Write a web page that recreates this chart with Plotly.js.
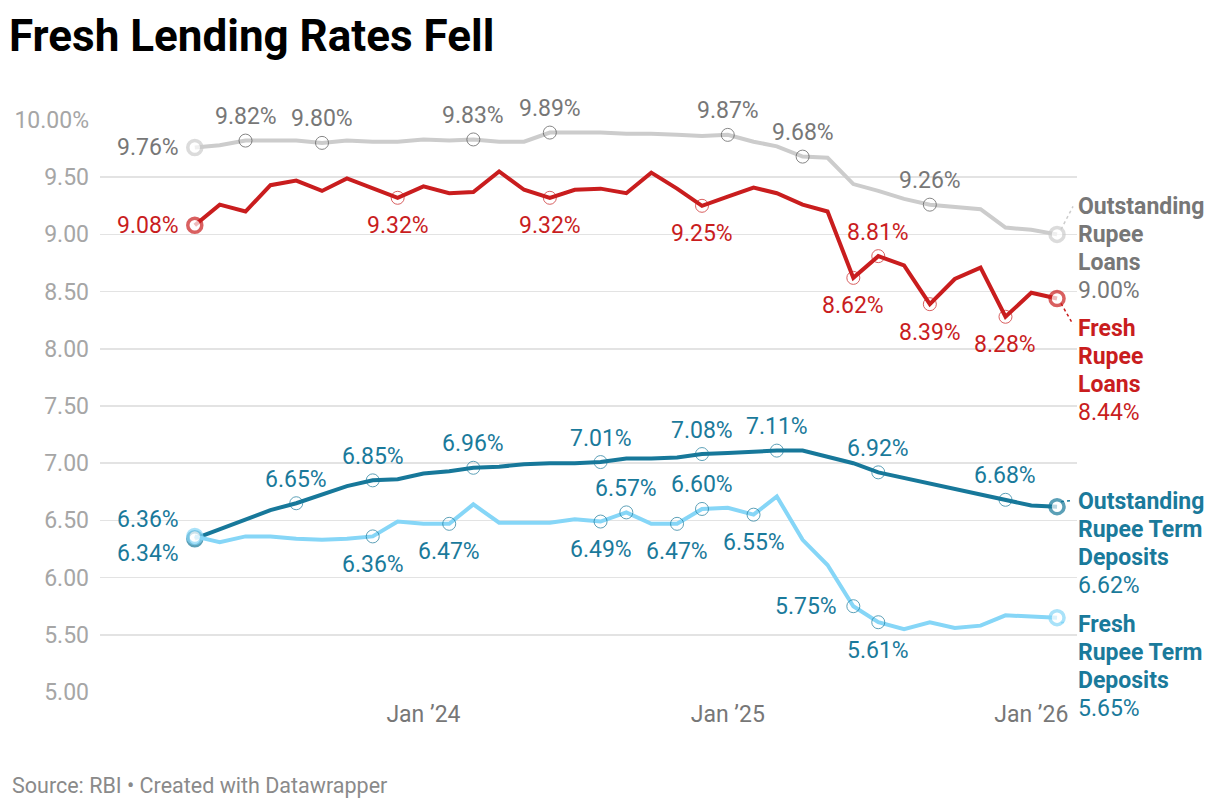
<!DOCTYPE html>
<html>
<head>
<meta charset="utf-8">
<script src="https://cdn.plot.ly/plotly-3.0.1.min.js"></script>
<style>html,body{margin:0;padding:0;background:#fff;}#chart{width:1220px;height:808px;}</style>
</head>
<body>
<div id="chart"></div>
<script>
const months = ['2023-04-01','2023-05-01','2023-06-01','2023-07-01','2023-08-01','2023-09-01','2023-10-01','2023-11-01','2023-12-01',
  '2024-01-01','2024-02-01','2024-03-01','2024-04-01','2024-05-01','2024-06-01','2024-07-01','2024-08-01','2024-09-01','2024-10-01','2024-11-01','2024-12-01',
  '2025-01-01','2025-02-01','2025-03-01','2025-04-01','2025-05-01','2025-06-01','2025-07-01','2025-08-01','2025-09-01','2025-10-01','2025-11-01','2025-12-01',
  '2026-01-01','2026-02-01'];

const outstandingLoans = [9.76,9.78,9.82,9.82,9.82,9.80,9.82,9.81,9.81,9.83,9.82,9.83,9.81,9.81,9.89,9.89,9.89,9.88,9.88,9.87,9.86,
  9.87,9.81,9.77,9.68,9.67,9.44,9.38,9.31,9.26,9.24,9.22,9.06,9.04,9.00];
const freshLoans = [9.08,9.26,9.20,9.43,9.47,9.38,9.49,9.40,9.32,9.42,9.36,9.37,9.55,9.39,9.32,9.39,9.40,9.36,9.54,9.40,9.25,
  9.33,9.41,9.36,9.26,9.20,8.62,8.81,8.73,8.39,8.61,8.71,8.28,8.49,8.44];
const outstandingDeposits = [6.34,6.42,6.51,6.59,6.65,6.73,6.80,6.85,6.86,6.91,6.93,6.96,6.97,6.99,7.00,7.00,7.01,7.04,7.04,7.05,7.08,
  7.09,7.10,7.11,7.11,7.06,7.00,6.92,6.87,6.82,6.77,6.72,6.68,6.63,6.62];
const freshDeposits = [6.36,6.31,6.36,6.36,6.34,6.33,6.34,6.36,6.49,6.47,6.47,6.64,6.48,6.48,6.48,6.51,6.49,6.57,6.47,6.47,6.60,
  6.61,6.55,6.71,6.33,6.11,5.75,5.61,5.55,5.61,5.56,5.58,5.67,5.66,5.65];

const yTickVals = [5,5.5,6,6.5,7,7.5,8,8.5,9,9.5,10];
const yTickText = ['5.00','5.50','6.00','6.50','7.00','7.50','8.00','8.50','9.00','9.50','10.00%'];
const xTickVals = ['2024-01-01','2025-01-01','2026-01-01'];
const xTickText = ["Jan ’24","Jan ’25","Jan ’26"];

// labeled points: [index, position]
const seriesDefs = [
  {name:'Outstanding Rupee Loans', values: outstandingLoans, line:'#cccccc', label:'#777777', ring:'#555555', nameLines:['Outstanding','Rupee','Loans'],
   labels:[[0,'left'],[2,'above'],[5,'above'],[11,'above'],[14,'above'],[21,'above'],[24,'above'],[29,'above']], endShift:-28, conn:[16,-28]},
  {name:'Fresh Rupee Loans', values: freshLoans, line:'#c91d1e', label:'#c91d1e', ring:'#c91d1e', nameLines:['Fresh','Rupee','Loans'],
   labels:[[0,'left'],[8,'below'],[14,'below'],[20,'below'],[26,'below'],[27,'above'],[29,'below'],[32,'below']], endShift:30, conn:[16,26]},
  {name:'Outstanding Rupee Term Deposits', values: outstandingDeposits, line:'#17789a', label:'#1a7a9b', ring:'#1a7a9b', nameLines:['Outstanding','Rupee Term','Deposits'],
   labels:[[0,'leftbelow'],[4,'above'],[7,'above'],[11,'above'],[16,'above'],[20,'above'],[23,'above'],[27,'above'],[32,'above']], endShift:-5, conn:[14,-6]},
  {name:'Fresh Rupee Term Deposits', values: freshDeposits, line:'#86d6f7', label:'#1a7a9b', ring:'#1a7a9b', nameLines:['Fresh','Rupee Term','Deposits'],
   labels:[[0,'leftabove'],[7,'below'],[10,'below'],[16,'below'],[17,'above'],[19,'below'],[20,'above'],[22,'below'],[26,'left'],[27,'below']], endShift:7, conn:[10,4]}
];

const FONT = 'Roboto, "Noto Sans", sans-serif';
const LBL = 23;
const LINE_H = 28;
const traces = [];
const annotations = [];
const shapes = [];

seriesDefs.forEach(s => {
  const n = s.values.length;
  const sizes = s.values.map(()=>0);
  const fills = s.values.map(()=> 'rgba(0,0,0,0)');
  const lcols = s.values.map(()=> s.ring);
  const lw = s.values.map(()=>0);
  s.labels.forEach(([i]) => { if (i !== 0) { sizes[i] = 13; lw[i] = 1; } });
  [0, n-1].forEach(i => { sizes[i] = 14; fills[i] = '#ffffff'; lcols[i] = s.line; lw[i] = 3.5; });
  traces.push({
    x: months, y: s.values, type:'scatter', mode:'lines', name:s.name, hoverinfo:'skip',
    line:{color:s.line, width:4}
  });
  traces.push({
    x: months, y: s.values, type:'scatter', mode:'markers', hoverinfo:'skip', showlegend:false,
    marker:{size:sizes, color:fills, line:{color:lcols, width:lw}}
  });
  s.labels.forEach(([i,pos]) => {
    const a = {x: months[i], y: s.values[i], xref:'x', yref:'y', text: s.values[i].toFixed(2)+'%', showarrow:false,
      font:{family:FONT, size:LBL, color:s.label}};
    if (pos==='above') { a.yanchor='middle'; a.yshift=24; }
    else if (pos==='below') { a.yanchor='middle'; a.yshift=-28; }
    else if (pos==='left') { a.xanchor='right'; a.xshift=-14; }
    else if (pos==='leftabove') { a.xanchor='right'; a.xshift=-14; a.yshift=17; }
    else if (pos==='leftbelow') { a.xanchor='right'; a.xshift=-14; a.yshift=-15; }
    annotations.push(a);
  });
  // end label, one annotation per line
  const last = n-1;
  const lines = s.nameLines.map(t => '<b>'+t+'</b>').concat([s.values[last].toFixed(2)+'%']);
  lines.forEach((t, k) => {
    annotations.push({
      x: 1.0, xref:'paper', y: s.values[last], yref:'y', xanchor:'left', yanchor:'middle', align:'left',
      xshift: -1, yshift: -(s.endShift + k*LINE_H), showarrow:false, text: t,
      font:{family:FONT, size:LBL, color:s.label}
    });
  });
  const c = s.conn;
  shapes.push({type:'line', xref:'x', yref:'y', xsizemode:'pixel', ysizemode:'pixel',
    xanchor: months[last], yanchor: s.values[last],
    x0: 4, y0: c[1] > 0 ? -5 : 5, x1: c[0], y1: -c[1],
    line:{color:s.line, width:1.5, dash:'3px,3px'}});
});

annotations.push({xref:'paper', yref:'paper', x:-0.0921, y:-0.163, xanchor:'left', yanchor:'middle', showarrow:false,
  text:'Source: RBI • Created with Datawrapper', font:{family:FONT, size:21.5, color:'#8a8a8a'}});

const layout = {
  width:1220, height:808,
  margin:{l:100, r:143, t:120, b:116},
  paper_bgcolor:'#ffffff', plot_bgcolor:'#ffffff',
  showlegend:false,
  title:{text:'<b>Fresh Lending Rates Fell</b>', xref:'container', yref:'container', x:9/1220, xanchor:'left', y:1-36/808, yanchor:'middle',
    font:{family:FONT, size:44, color:'#000000'}},
  xaxis:{type:'date', range:['2022-12-08','2026-02-25'], tickvals:xTickVals, ticktext:xTickText, showgrid:false, zeroline:false, showline:false,
    ticks:'', tickfont:{family:FONT, size:23, color:'#777777'}, ticklabelstandoff:6, fixedrange:true},
  yaxis:{range:[5,10], tickvals:yTickVals, ticktext:yTickText, showgrid:true, gridcolor:'#e3e3e3', gridwidth:1.5, zeroline:false, showline:false,
    ticks:'', tickfont:{family:FONT, size:23, color:'#a6a6a6'}, ticklabelstandoff:10, fixedrange:true},
  annotations: annotations,
  shapes: shapes
};
Plotly.newPlot('chart', traces, layout, {displayModeBar:false, staticPlot:true});
</script>
</body>
</html>
